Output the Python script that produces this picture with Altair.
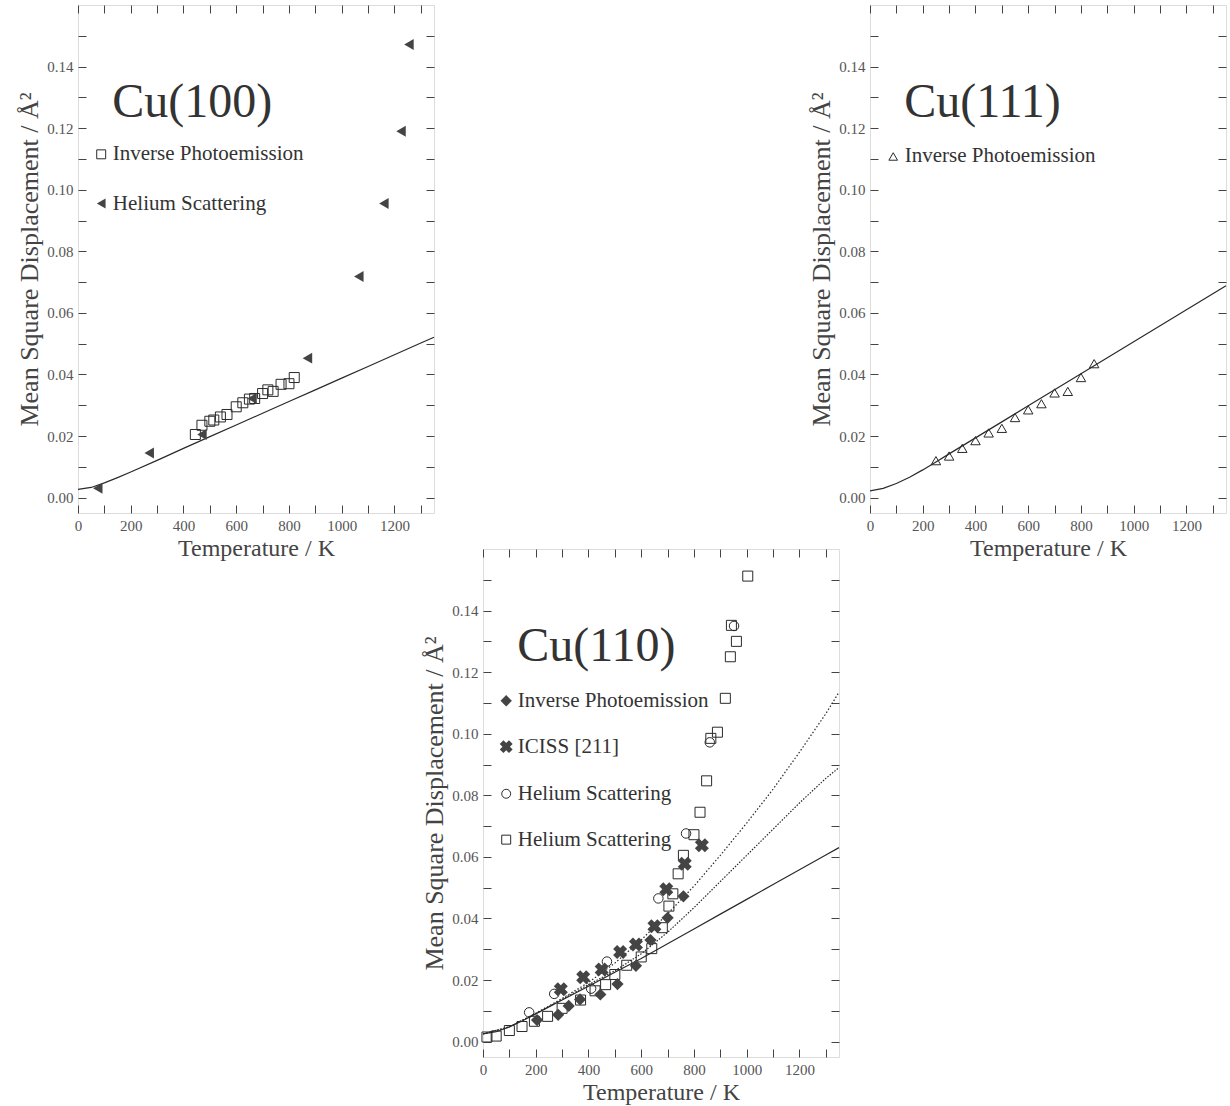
import altair as alt
import pandas as pd

FONT = "Liberation Serif"
W, H = 356, 508
X_DOMAIN = [0, 1350]
Y_DOMAIN = [-0.005, 0.16]

# tick values (all ticks; labels shown on every second one)
x_tick_values = [0, 100, 200, 300, 400, 500, 600, 700, 800, 900, 1000, 1100, 1200, 1300]
y_tick_values = [0.00, 0.01, 0.02, 0.03, 0.04, 0.05, 0.06, 0.07, 0.08, 0.09, 0.10, 0.11, 0.12, 0.13, 0.14, 0.15]

# ---------------- Cu(100) ----------------
cu100_ipe_T = [445, 470, 500, 515, 540, 565, 600, 625, 650, 670, 700, 720, 740, 770, 800, 820]
cu100_ipe_msd = [0.0205, 0.0235, 0.0248, 0.0252, 0.0262, 0.0270, 0.0295, 0.0308, 0.0320,
                 0.0322, 0.0338, 0.0350, 0.0345, 0.0368, 0.0370, 0.0390]
cu100_he_T = [75, 270, 470, 660, 870, 1065, 1160, 1225, 1255]
cu100_he_msd = [0.0030, 0.0145, 0.0205, 0.0322, 0.0453, 0.0718, 0.0955, 0.1190, 0.1472]
cu100_line_T = [0, 50, 100, 150, 200, 300, 400, 500, 600, 700, 800, 900, 1000, 1100, 1200, 1300, 1350]
cu100_line_msd = [0.0027, 0.0033, 0.0048, 0.0065, 0.0083, 0.0121, 0.0160, 0.0198, 0.0236,
                  0.0274, 0.0312, 0.0350, 0.0388, 0.0426, 0.0464, 0.0502, 0.0521]

# ---------------- Cu(111) ----------------
cu111_ipe_T = [250, 300, 350, 400, 450, 500, 550, 600, 650, 700, 750, 800, 850]
cu111_ipe_msd = [0.0120, 0.0135, 0.0160, 0.0185, 0.0210, 0.0225, 0.0260, 0.0285, 0.0305,
                 0.0340, 0.0345, 0.0390, 0.0435]
cu111_line_T = [0, 50, 100, 150, 200, 250, 300, 400, 500, 600, 700, 800, 900, 1000, 1100, 1200, 1300, 1350]
cu111_line_msd = [0.0022, 0.0030, 0.0046, 0.0066, 0.0090, 0.0116, 0.0142, 0.0194, 0.0246,
                  0.0298, 0.0350, 0.0402, 0.0454, 0.0506, 0.0558, 0.0610, 0.0662, 0.0688]

# ---------------- Cu(110) ----------------
cu110_ipe_T = [205, 285, 325, 368, 445, 510, 580, 635, 700, 760]
cu110_ipe_msd = [0.0070, 0.0087, 0.0116, 0.0137, 0.0153, 0.0187, 0.0246, 0.0330, 0.0402, 0.0472]
cu110_iciss_T = [295, 380, 450, 520, 580, 650, 695, 765, 830]
cu110_iciss_msd = [0.0170, 0.0209, 0.0234, 0.0291, 0.0315, 0.0375, 0.0495, 0.0578, 0.0638]
cu110_hec_T = [175, 270, 410, 470, 665, 770, 860, 952]
cu110_hec_msd = [0.0095, 0.0155, 0.0172, 0.0260, 0.0465, 0.0676, 0.0972, 0.1350]
cu110_hes_T = [15, 50, 100, 148, 195, 245, 300, 370, 425, 465, 500, 545, 600, 640, 680, 705,
               720, 740, 760, 800, 823, 848, 864, 889, 919, 938, 942, 961, 1004]
cu110_hes_msd = [0.0015, 0.0018, 0.0036, 0.0049, 0.0066, 0.0082, 0.0108, 0.0135, 0.0165,
                 0.0185, 0.0218, 0.0248, 0.0275, 0.0302, 0.0370, 0.0440, 0.0480, 0.0545,
                 0.0605, 0.0672, 0.0745, 0.0847, 0.0985, 0.1005, 0.1115, 0.1250, 0.1352,
                 0.1300, 0.1512]
cu110_solid_T = [0, 50, 100, 150, 200, 300, 400, 500, 600, 700, 800, 900, 1000, 1100, 1200, 1300, 1350]
cu110_solid_msd = [0.0025, 0.0032, 0.0048, 0.0068, 0.0090, 0.0135, 0.0180, 0.0225, 0.0270,
                   0.0318, 0.0366, 0.0414, 0.0462, 0.0510, 0.0558, 0.0606, 0.0630]
cu110_dotA_T = [0, 100, 200, 300, 400, 500, 600, 700, 800, 900, 1000, 1100, 1200, 1300, 1350]
cu110_dotA_msd = [0.0025, 0.0048, 0.0092, 0.0140, 0.0192, 0.0255, 0.0330, 0.0415, 0.0505,
                  0.0605, 0.0710, 0.0820, 0.0940, 0.1065, 0.1135]
cu110_dotB_T = [0, 100, 200, 300, 400, 500, 600, 700, 800, 900, 1000, 1100, 1200, 1300, 1350]
cu110_dotB_msd = [0.0025, 0.0048, 0.0091, 0.0137, 0.0185, 0.0230, 0.0285, 0.0355, 0.0435,
                  0.0520, 0.0605, 0.0690, 0.0775, 0.0855, 0.0890]

# panel titles and legend entries (positions in data units)
title_T, title_msd = 130, 0.1235
legend_text_T = 132
legend_marker_T = 88
cu100_legend = ["Inverse Photoemission", "Helium Scattering"]
cu100_legend_msd = [0.1115, 0.0955]
cu111_legend = ["Inverse Photoemission"]
cu111_legend_msd = [0.1108]
cu110_legend = ["Inverse Photoemission", "ICISS [211]", "Helium Scattering", "Helium Scattering"]
cu110_legend_msd = [0.1107, 0.0958, 0.0805, 0.0656]

INK = "#2a2a2a"
FILL = "#444444"

xs = alt.Scale(domain=X_DOMAIN, nice=False, zero=False)
ys = alt.Scale(domain=Y_DOMAIN, nice=False, zero=False)


def xaxis(orient, labels):
    kw = dict(orient=orient, values=x_tick_values, domain=False, grid=False,
              tickSize=8, offset=-8, tickColor="#444", tickWidth=1,
              labelOverlap=False, labelFlush=False)
    if labels:
        kw.update(format="d", labelExpr="datum.value % 200 === 0 ? datum.label : ''",
                  labelFont=FONT, labelFontSize=15, labelColor="#555", labelPadding=5,
                  title="Temperature / K", titleFont=FONT, titleFontSize=24,
                  titleFontWeight="normal", titleColor="#444", titlePadding=3)
    else:
        kw.update(labels=False, title=None)
    return alt.Axis(**kw)


def yaxis(orient, labels):
    kw = dict(orient=orient, values=y_tick_values, domain=False, grid=False,
              tickSize=8, offset=-8, tickColor="#444", tickWidth=1,
              labelOverlap=False, labelFlush=False)
    if labels:
        kw.update(format=".2f",
                  labelExpr="round(datum.value * 100) % 2 === 0 ? datum.label : ''",
                  labelFont=FONT, labelFontSize=15, labelColor="#555", labelPadding=5,
                  title="Mean Square Displacement / Å²", titleFont=FONT, titleFontSize=26,
                  titleFontWeight="normal", titleColor="#444", titlePadding=4)
    else:
        kw.update(labels=False, title=None)
    return alt.Axis(**kw)


def df(T, msd):
    return pd.DataFrame({"T": T, "msd": msd})


def X():
    return alt.X("T:Q", scale=xs, axis=None)


def Y():
    return alt.Y("msd:Q", scale=ys, axis=None)


def axis_layers(line_T, line_msd):
    d = df(line_T, line_msd)
    a = alt.Chart(d).mark_line(opacity=0).encode(
        x=alt.X("T:Q", scale=xs, axis=xaxis("bottom", True)),
        y=alt.Y("msd:Q", scale=ys, axis=yaxis("left", True)))
    b = alt.Chart(d).mark_line(opacity=0).encode(
        x=alt.X("T:Q", scale=xs, axis=xaxis("top", False)),
        y=alt.Y("msd:Q", scale=ys, axis=yaxis("right", False)))
    return [a, b]


def line(T, msd, dash=None):
    kw = dict(color=INK, strokeWidth=1.2)
    if dash:
        kw["strokeDash"] = dash
    return alt.Chart(df(T, msd)).mark_line(**kw).encode(x=X(), y=Y())


def points(T, msd, shape, filled, size, angle=0):
    if filled:
        m = alt.Chart(df(T, msd)).mark_point(shape=shape, filled=True, color=FILL,
                                             size=size, opacity=1, angle=angle)
    else:
        m = alt.Chart(df(T, msd)).mark_point(shape=shape, filled=False, stroke=INK,
                                             strokeWidth=1, size=size, opacity=1, angle=angle)
    return m.encode(x=X(), y=Y())


def title_text(label):
    return alt.Chart(pd.DataFrame({"T": [title_T], "msd": [title_msd], "t": [label]})).mark_text(
        align="left", baseline="alphabetic", font=FONT, fontSize=48, color="#333"
    ).encode(x=X(), y=Y(), text="t:N")


def legend_texts(labels, msds):
    d = pd.DataFrame({"T": [legend_text_T] * len(labels), "msd": msds, "t": labels})
    return alt.Chart(d).mark_text(align="left", baseline="middle", font=FONT,
                                  fontSize=21, color="#333").encode(x=X(), y=Y(), text="t:N")


def legend_marker(msd, shape, filled, size, angle=0):
    return points([legend_marker_T], [msd], shape, filled, size, angle)


def panel(layers, line_T, line_msd):
    return alt.layer(*(axis_layers(line_T, line_msd) + layers)).resolve_axis(
        x="independent", y="independent").properties(width=W, height=H)


p100 = panel([
    line(cu100_line_T, cu100_line_msd),
    points(cu100_ipe_T, cu100_ipe_msd, "square", False, 100),
    points(cu100_he_T, cu100_he_msd, "triangle-left", True, 120),
    title_text("Cu(100)"),
    legend_texts(cu100_legend, cu100_legend_msd),
    legend_marker(cu100_legend_msd[0], "square", False, 80),
    legend_marker(cu100_legend_msd[1], "triangle-left", True, 100),
], cu100_line_T, cu100_line_msd)

p111 = panel([
    line(cu111_line_T, cu111_line_msd),
    points(cu111_ipe_T, cu111_ipe_msd, "triangle-up", False, 90),
    title_text("Cu(111)"),
    legend_texts(cu111_legend, cu111_legend_msd),
    legend_marker(cu111_legend_msd[0], "triangle-up", False, 75),
], cu111_line_T, cu111_line_msd)

p110 = panel([
    line(cu110_solid_T, cu110_solid_msd),
    line(cu110_dotA_T, cu110_dotA_msd, [1.5, 2]),
    line(cu110_dotB_T, cu110_dotB_msd, [1.5, 1.5]),
    points(cu110_hes_T, cu110_hes_msd, "square", False, 100),
    points(cu110_hec_T, cu110_hec_msd, "circle", False, 90),
    points(cu110_ipe_T, cu110_ipe_msd, "diamond", True, 150),
    points(cu110_iciss_T, cu110_iciss_msd, "cross", True, 200, 45),
    title_text("Cu(110)"),
    legend_texts(cu110_legend, cu110_legend_msd),
    legend_marker(cu110_legend_msd[0], "diamond", True, 130),
    legend_marker(cu110_legend_msd[1], "cross", True, 170, 45),
    legend_marker(cu110_legend_msd[2], "circle", False, 80),
    legend_marker(cu110_legend_msd[3], "square", False, 80),
], cu110_solid_T, cu110_solid_msd)

spacer = alt.Chart(pd.DataFrame({"a": [0]})).mark_point(opacity=0).encode(
    x=alt.X("a:Q", axis=None), y=alt.Y("a:Q", axis=None)
).properties(width=405, height=10, view=alt.ViewBackground(strokeOpacity=0))

top = alt.hconcat(p100, p111, spacing=436, bounds="flush")
bottom = alt.hconcat(spacer, p110, spacing=0, bounds="flush")

# with flush bounds the nested rows count as zero height, so the spacing is the
# full offset between the top edges of the two rows
chart = alt.vconcat(top, bottom, spacing=544, bounds="flush").properties(
    padding={"left": 16, "top": 4, "right": 0, "bottom": 0},
    background="white",
).configure_view(stroke="#333", strokeWidth=1.2).configure(font=FONT)

chart.save("out.html", embed_options={"renderer": "svg", "actions": False})
